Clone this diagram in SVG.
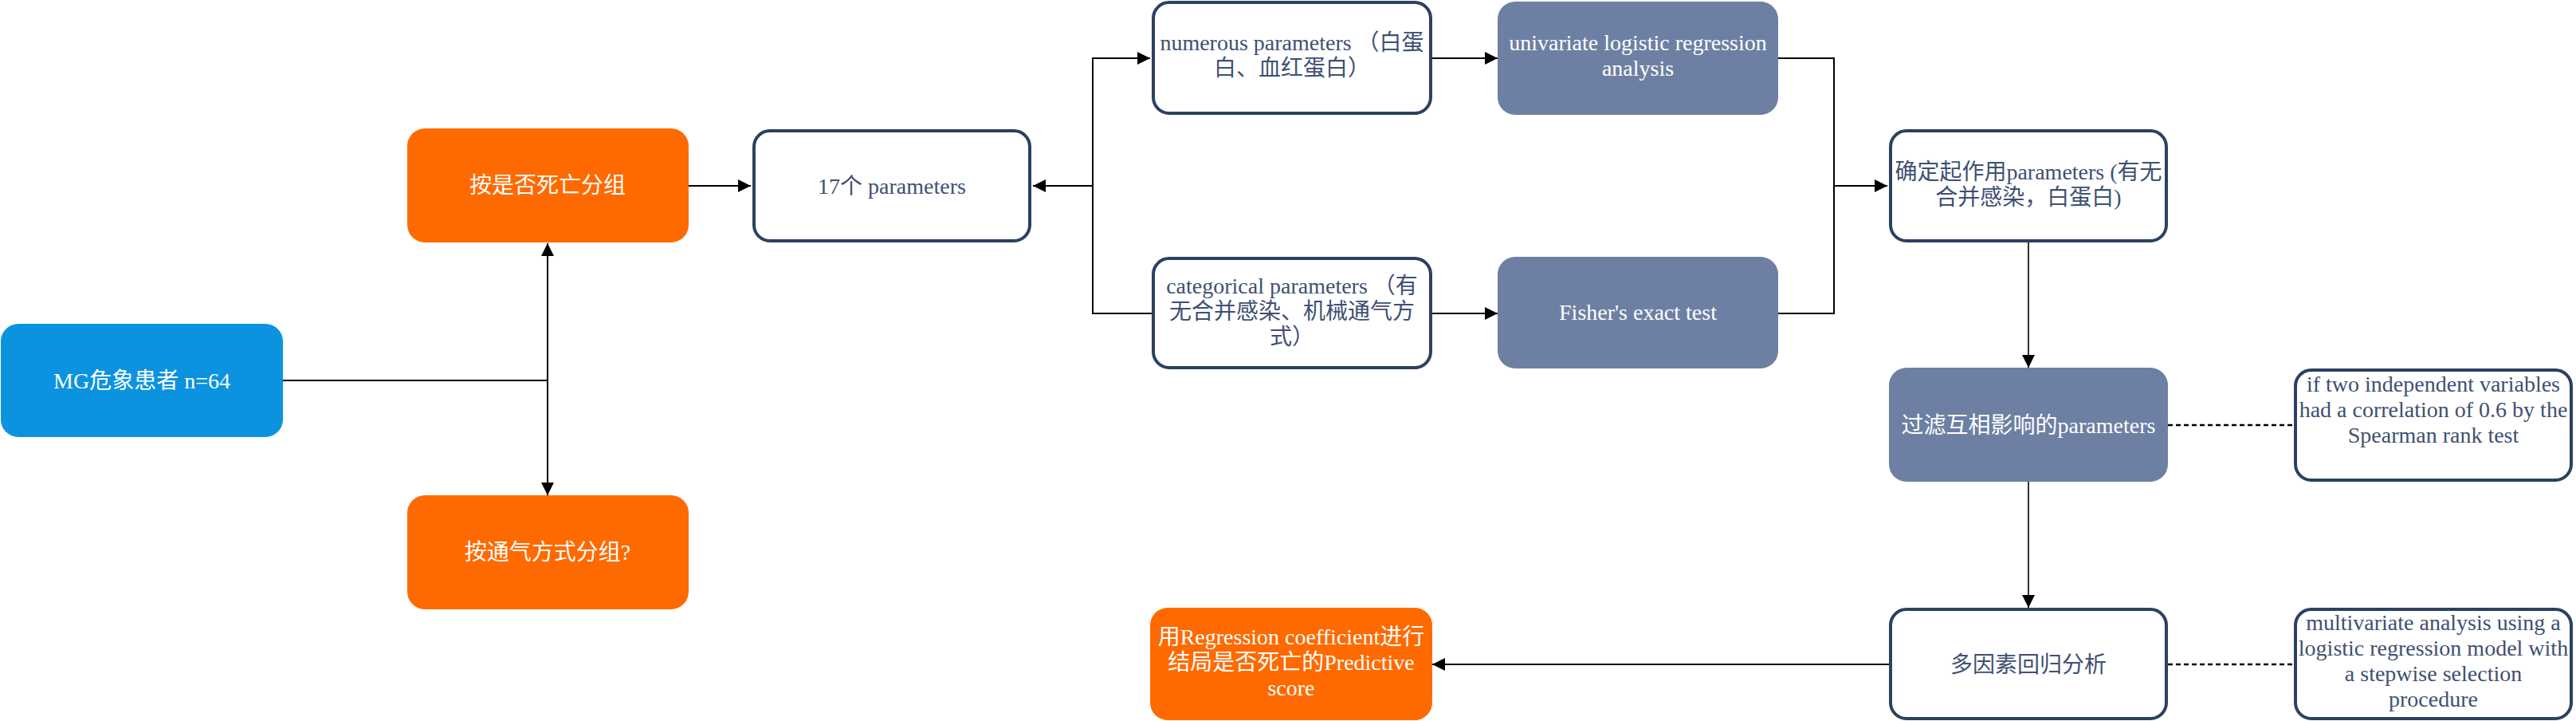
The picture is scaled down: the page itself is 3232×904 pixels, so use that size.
<svg xmlns="http://www.w3.org/2000/svg" width="3232" height="904" viewBox="0 0 3232 904">
<style>
.box{stroke:none}
.orange{fill:#ff6a00}
.blue{fill:#0b93e0}
.slate{fill:#6d80a3}
.white{fill:#ffffff;stroke:#2b4162;stroke-width:4}
text{font-family:"Liberation Serif","Noto Sans CJK SC",serif;font-size:28px;text-anchor:middle}
.lt{fill:#ffffff}
.dk{fill:#3e5072}
.conn{fill:none;stroke:#000000;stroke-width:2}
.thin{stroke-width:1.6}
.dash{fill:none;stroke:#000000;stroke-width:2.5;stroke-dasharray:6 4}
</style>
<defs>
<marker id="arr" viewBox="0 0 16 16" markerWidth="16" markerHeight="16" refX="16" refY="8" orient="auto" markerUnits="userSpaceOnUse">
<path d="M0,0 L16,8 L0,16 z" fill="#000000"/>
</marker>
</defs>
<rect width="3232" height="904" fill="#ffffff"/>
<g id="connectors">
<path class="conn" d="M355,477 H687"/>
<path class="conn" d="M687,477 V305" marker-end="url(#arr)"/>
<path class="conn" d="M687,477 V621" marker-end="url(#arr)"/>
<path class="conn" d="M864,233 H942" marker-end="url(#arr)"/>
<path class="conn" d="M1371,233 H1296" marker-end="url(#arr)"/>
<path class="conn" d="M1371,233 V73 H1443" marker-end="url(#arr)"/>
<path class="conn" d="M1371,233 V393 H1445"/>
<path class="conn" d="M1797,73 H1879" marker-end="url(#arr)"/>
<path class="conn" d="M1797,393 H1879" marker-end="url(#arr)"/>
<path class="conn" d="M2231,73 H2301 V393 H2231"/>
<path class="conn" d="M2301,233 H2368" marker-end="url(#arr)"/>
<path class="conn thin" d="M2545,302 V461" marker-end="url(#arr)"/>
<path class="conn thin" d="M2545,604 V762" marker-end="url(#arr)"/>
<path class="conn" d="M2370,833 H1797" marker-end="url(#arr)"/>
<path class="dash" d="M2720,533 H2878"/>
<path class="dash" d="M2720,833 H2878"/>
</g>
<g id="n-mg">
<rect class="box blue" x="1" y="406" width="354" height="142" rx="22"/>
<text class="lt" x="178" y="487">MG危象患者 n=64</text>
</g>
<g id="n-death">
<rect class="box orange" x="511" y="161" width="353" height="143" rx="22"/>
<text class="lt" x="687" y="242">按是否死亡分组</text>
</g>
<g id="n-vent">
<rect class="box orange" x="511" y="621" width="353" height="143" rx="22"/>
<text class="lt" x="687" y="702">按通气方式分组?</text>
</g>
<g id="n-p17">
<rect class="white" x="946" y="164" width="346" height="138" rx="20"/>
<text class="dk" x="1119" y="243">17个 parameters</text>
</g>
<g id="n-numerous">
<rect class="white" x="1447" y="3" width="348" height="139" rx="20"/>
<text class="dk" x="1621" y="63">numerous parameters （白蛋</text>
<text class="dk" x="1621" y="95">白、血红蛋白）</text>
</g>
<g id="n-categorical">
<rect class="white" x="1447" y="324" width="348" height="137" rx="20"/>
<text class="dk" x="1621" y="368">categorical parameters （有</text>
<text class="dk" x="1621" y="400">无合并感染、机械通气方</text>
<text class="dk" x="1621" y="432">式）</text>
</g>
<g id="n-univariate">
<rect class="box slate" x="1879" y="2" width="352" height="142" rx="22"/>
<text class="lt" x="2055" y="63">univariate logistic regression</text>
<text class="lt" x="2055" y="95">analysis</text>
</g>
<g id="n-fisher">
<rect class="box slate" x="1879" y="322" width="352" height="140" rx="22"/>
<text class="lt" x="2055" y="401">Fisher's exact test</text>
</g>
<g id="n-effective">
<rect class="white" x="2372" y="164" width="346" height="138" rx="20"/>
<text class="dk" x="2545" y="225">确定起作用parameters (有无</text>
<text class="dk" x="2545" y="257">合并感染，白蛋白)</text>
</g>
<g id="n-filter">
<rect class="box slate" x="2370" y="461" width="350" height="143" rx="22"/>
<text class="lt" x="2545" y="543">过滤互相影响的parameters</text>
</g>
<g id="n-iftwo">
<rect class="white" x="2880" y="464" width="346" height="138" rx="20"/>
<text class="dk" x="3053" y="491">if two independent variables</text>
<text class="dk" x="3053" y="523">had a correlation of 0.6 by the</text>
<text class="dk" x="3053" y="555">Spearman rank test</text>
</g>
<g id="n-multi">
<rect class="white" x="2372" y="764" width="346" height="137" rx="20"/>
<text class="dk" x="2545" y="843">多因素回归分析</text>
</g>
<g id="n-multivariate">
<rect class="white" x="2880" y="764" width="346" height="137" rx="20"/>
<text class="dk" x="3053" y="790">multivariate analysis using a</text>
<text class="dk" x="3053" y="822">logistic regression model with</text>
<text class="dk" x="3053" y="854">a stepwise selection</text>
<text class="dk" x="3053" y="886">procedure</text>
</g>
<g id="n-score">
<rect class="box orange" x="1443" y="762" width="354" height="141" rx="22"/>
<text class="lt" x="1620" y="808">用Regression coefficient进行</text>
<text class="lt" x="1620" y="840">结局是否死亡的Predictive</text>
<text class="lt" x="1620" y="872">score</text>
</g>
</svg>
